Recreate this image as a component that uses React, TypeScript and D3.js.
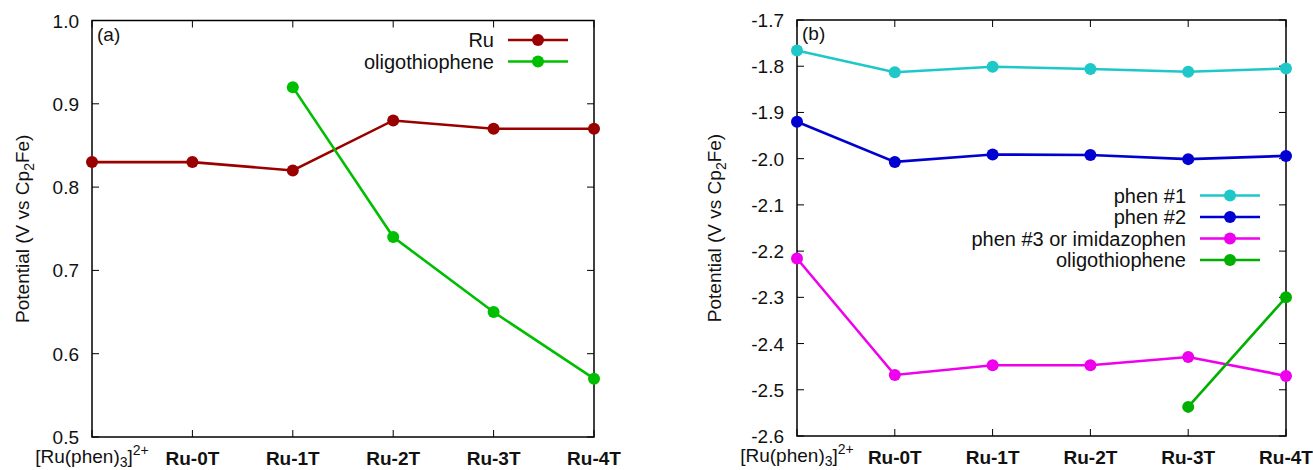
import React from 'react';
import * as d3 from 'd3';

const categories = ['[Ru(phen)3]2+', 'Ru-0T', 'Ru-1T', 'Ru-2T', 'Ru-3T', 'Ru-4T'];

// panel (a)
const ruValues = [0.83, 0.83, 0.82, 0.88, 0.87, 0.87];
const oligoA = [null, null, 0.92, 0.74, 0.65, 0.57];
const ticksA = [0.5, 0.6, 0.7, 0.8, 0.9, 1.0];

// panel (b)
const phen1 = [-1.766, -1.813, -1.801, -1.806, -1.812, -1.805];
const phen2 = [-1.92, -2.007, -1.991, -1.992, -2.001, -1.994];
const phen3 = [-2.216, -2.468, -2.447, -2.447, -2.429, -2.47];
const oligoB = [null, null, null, null, -2.537, -2.3];
const ticksB = [-2.6, -2.5, -2.4, -2.3, -2.2, -2.1, -2.0, -1.9, -1.8, -1.7];

type Series = { name: string; color: string; values: (number | null)[] };

const seriesA: Series[] = [
  { name: 'Ru', color: '#9a0000', values: ruValues },
  { name: 'oligothiophene', color: '#00bf00', values: oligoA },
];
const seriesB: Series[] = [
  { name: 'phen #1', color: '#1ec8c8', values: phen1 },
  { name: 'phen #2', color: '#0000d0', values: phen2 },
  { name: 'phen #3 or imidazophen', color: '#ee00ee', values: phen3 },
  { name: 'oligothiophene', color: '#00b000', values: oligoB },
];

const font = '"Liberation Sans", Arial, sans-serif';
const narrow = '"Liberation Sans Narrow", "Liberation Sans", sans-serif';

type PanelProps = {
  left: number;
  right: number;
  top: number;
  bottom: number;
  domain: [number, number];
  ticks: number[];
  series: Series[];
  tag: string;
  legendX: number;
  legendY: number;
  labelX: number;
};

const Panel = ({ left, right, top, bottom, domain, ticks, series, tag, legendX, legendY, labelX }: PanelProps) => {
  const x = d3.scalePoint<string>().domain(categories).range([left, right]);
  const y = d3.scaleLinear().domain(domain).range([bottom, top]);
  const line = d3
    .line<{ c: string; v: number | null }>()
    .defined((d) => d.v !== null)
    .x((d) => x(d.c) as number)
    .y((d) => y(d.v as number));
  const tl = 7;
  const midY = (top + bottom) / 2;

  return (
    <g>
      {/* ticks */}
      {ticks.map((t) => (
        <g key={'y' + t}>
          <line x1={left} x2={left + tl} y1={y(t)} y2={y(t)} stroke="#000" strokeWidth={1} />
          <line x1={right} x2={right - tl} y1={y(t)} y2={y(t)} stroke="#000" strokeWidth={1} />
          <text x={left - 13} y={y(t) + 7} textAnchor="end" fontSize={19} fontFamily={font} fill="#111">
            {t.toFixed(1)}
          </text>
        </g>
      ))}
      {categories.map((c, i) => (
        <g key={c}>
          <line x1={x(c)} x2={x(c)} y1={bottom} y2={bottom - tl} stroke="#000" strokeWidth={1} />
          <line x1={x(c)} x2={x(c)} y1={top} y2={top + tl} stroke="#000" strokeWidth={1} />
          {i === 0 ? (
            <text x={x(c)} y={bottom + 26} textAnchor="middle" fontSize={19} fontFamily={narrow} fill="#111">
              [Ru(phen)
              <tspan fontSize={14} dy={4}>3</tspan>
              <tspan dy={-4}>]</tspan>
              <tspan fontSize={14} dy={-8}>2+</tspan>
            </text>
          ) : (
            <text x={x(c)} y={bottom + 28} textAnchor="middle" fontSize={19} fontWeight="bold" fontFamily={narrow} fill="#111">
              {c}
            </text>
          )}
        </g>
      ))}
      <rect x={left} y={top} width={right - left} height={bottom - top} fill="none" stroke="#000" strokeWidth={1.5} />
      <text x={left + 5} y={top + 20} fontSize={19} fontFamily={font} fill="#111">
        {tag}
      </text>
      <text
        transform={`translate(${labelX},${midY}) rotate(-90)`}
        textAnchor="middle"
        fontSize={19}
        fontFamily={font}
        fill="#111"
      >
        Potential (V vs Cp
        <tspan fontSize={14} dy={5}>2</tspan>
        <tspan dy={-5}>Fe)</tspan>
      </text>
      {/* series */}
      {series.map((s) => {
        const pts = s.values.map((v, i) => ({ c: categories[i], v }));
        return (
          <g key={s.name}>
            <path d={line(pts) || ''} fill="none" stroke={s.color} strokeWidth={2.6} />
            {pts
              .filter((p) => p.v !== null)
              .map((p) => (
                <circle key={p.c} cx={x(p.c)} cy={y(p.v as number)} r={6} fill={s.color} />
              ))}
          </g>
        );
      })}
      {/* legend */}
      {series.map((s, i) => {
        const ly = legendY + i * 21.5;
        return (
          <g key={'lg' + s.name}>
            <text x={legendX} y={ly + 7} textAnchor="end" fontSize={20} fontFamily={font} fill="#111">
              {s.name}
            </text>
            <line x1={legendX + 14} x2={legendX + 74} y1={ly} y2={ly} stroke={s.color} strokeWidth={2.6} />
            <circle cx={legendX + 44} cy={ly} r={6} fill={s.color} />
          </g>
        );
      })}
    </g>
  );
};

export default function App() {
  return (
    <svg width={1313} height={470} style={{ position: 'absolute', left: 0, top: 0, background: '#fff' }}>
      <Panel
        left={92}
        right={594}
        top={20.5}
        bottom={437}
        domain={[0.5, 1.0]}
        ticks={ticksA}
        series={seriesA}
        tag="(a)"
        legendX={494}
        legendY={40}
        labelX={29}
      />
      <Panel
        left={797}
        right={1286}
        top={20}
        bottom={436}
        domain={[-2.6, -1.7]}
        ticks={ticksB}
        series={seriesB}
        tag="(b)"
        legendX={1186}
        legendY={195.5}
        labelX={721}
      />
    </svg>
  );
}
